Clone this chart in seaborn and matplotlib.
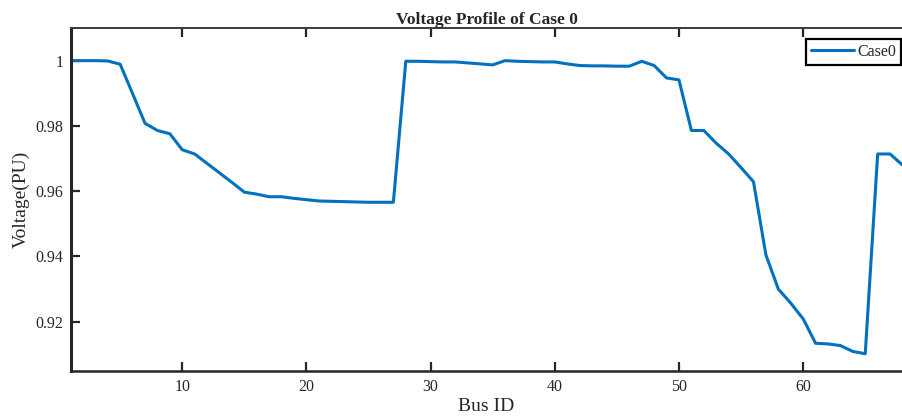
import matplotlib
matplotlib.use("Agg")
import matplotlib.pyplot as plt
import seaborn as sns
import pandas as pd

bus_id = list(range(1, 69))
voltage = [
    1.0000, 1.0000, 1.0000, 0.9999, 0.9989, 0.9899, 0.9808, 0.9786, 0.9776, 0.9727,
    0.9714, 0.9685, 0.9656, 0.9627, 0.9597, 0.9591, 0.9583, 0.9583, 0.9578, 0.9574,
    0.9570, 0.9569, 0.9568, 0.9567, 0.9566, 0.9566, 0.9566, 0.9998, 0.9998, 0.9997,
    0.9996, 0.9996, 0.9993, 0.9990, 0.9987, 1.0000, 0.9998, 0.9997, 0.9996, 0.9996,
    0.9990, 0.9985, 0.9984, 0.9984, 0.9983, 0.9983, 0.9998, 0.9985, 0.9947, 0.9941,
    0.9786, 0.9786, 0.9747, 0.9714, 0.9672, 0.9629, 0.9405, 0.9300, 0.9257, 0.9209,
    0.9134, 0.9132, 0.9127, 0.9109, 0.9102, 0.9714, 0.9714, 0.9680,
]
series_name = "Case0"
x_ticks = [10, 20, 30, 40, 50, 60]
y_ticks = [0.92, 0.94, 0.96, 0.98, 1.0]
y_tick_labels = ["0.92", "0.94", "0.96", "0.98", "1"]

df = pd.DataFrame({"Bus ID": bus_id, "Voltage": voltage, "Case": series_name})

sns.set_style("ticks")
plt.rcParams["font.family"] = ["Liberation Serif", "DejaVu Serif"]

W, H = 902, 419
fig = plt.figure(figsize=(W / 100, H / 100), dpi=100)
left, right, top, bottom = 70.5, 902.5, 28.0, 370.7
ax = fig.add_axes([left / W, (H - bottom) / H, (right - left) / W, (bottom - top) / H])

sns.lineplot(data=df, x="Bus ID", y="Voltage", hue="Case", palette=["#0072BD"],
             linewidth=2.2, ax=ax)

ax.set_xlim(1, 68)
ax.set_ylim(0.905, 1.01)
ax.set_xticks(x_ticks)
ax.set_yticks(y_ticks)
ax.set_yticklabels(y_tick_labels)

spine_col = "#262626"
for s in ax.spines.values():
    s.set_visible(True)
    s.set_color(spine_col)
ax.spines["left"].set_linewidth(2.2)
ax.spines["bottom"].set_linewidth(1.8)
ax.spines["top"].set_linewidth(1.4)
ax.spines["top"].set_color("#3a3a3a")
ax.spines["right"].set_visible(False)
ax.tick_params(direction="in", length=6.5, width=1.6, colors=spine_col,
               labelcolor="#262626", labelsize=11.5, top=True, right=False)
ax.tick_params(axis="x", pad=6)
ax.tick_params(axis="y", pad=5)

ax.set_xlabel("Bus ID", fontsize=14, labelpad=2, color="#262626")
ax.set_ylabel("Voltage(PU)", fontsize=14, labelpad=4, color="#262626")
ax.set_title("Voltage Profile of Case 0", fontsize=12.5, fontweight="bold", pad=3)

leg = ax.legend(loc="upper right", bbox_to_anchor=((901 - left) / (right - left), 1 - 11 / (bottom - top)),
                borderaxespad=0, fontsize=11.5, frameon=True, fancybox=False,
                handlelength=2.7, handletextpad=0.2, borderpad=0.3)
leg.get_frame().set_edgecolor("black")
leg.get_frame().set_linewidth(1.6)
leg.get_frame().set_alpha(1)
for t in leg.get_texts():
    t.set_color("#262626")

fig.savefig("out.png", dpi=100)
